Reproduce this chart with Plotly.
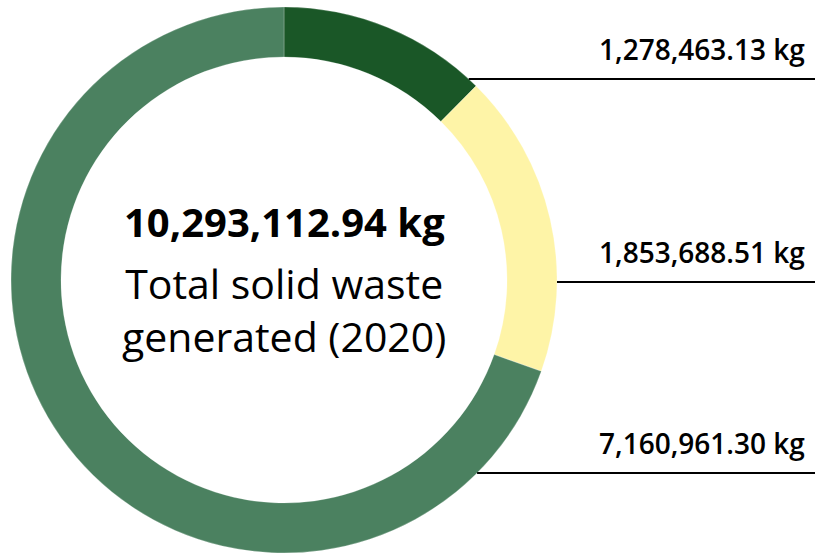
import math
import plotly.graph_objects as go

# Solid waste generated in 2020, by stream (kg)
streams = ["Stream A", "Stream B", "Stream C"]
waste_kg = [1278463.13, 1853688.51, 7160961.30]
slice_colors = ["#1A5727", "#FEF4A7", "#4B8160"]
total_kg = 10293112.94
center_lines = ["Total solid waste", "generated (2020)"]

W, H = 828, 554
cx, cy, R = 284, 280, 273      # donut centre and outer radius, px
hole = 0.817

FONT = "Open Sans"


def px_x(x):
    return x / W


def px_y(y):
    return 1 - y / H


fig = go.Figure(
    go.Pie(
        labels=streams,
        values=waste_kg,
        hole=hole,
        sort=False,
        direction="clockwise",
        rotation=0,
        marker=dict(colors=slice_colors, line=dict(color="rgba(255,255,255,0.4)", width=0.6)),
        textinfo="none",
        hoverinfo="label+value",
        showlegend=False,
        domain=dict(x=[px_x(cx - R), px_x(cx + R)], y=[px_y(cy + R), px_y(cy - R)]),
    )
)

# Leader lines start on the outer rim at the given heights and run to the right edge
label_rows = [79, 282, 473]
line_end = 815
shapes = []
annotations = []
for y, v in zip(label_rows, waste_kg):
    dy = cy - y
    x0 = cx + math.sqrt(max(R * R - dy * dy, 0))
    shapes.append(
        dict(type="line", xref="paper", yref="paper",
             x0=px_x(x0), x1=px_x(line_end), y0=px_y(y), y1=px_y(y),
             line=dict(color="#000000", width=2))
    )
    annotations.append(
        dict(text=f"{v:,.2f} kg", xref="paper", yref="paper",
             x=px_x(807), y=px_y(y - 30), xanchor="right", yanchor="middle",
             showarrow=False,
             font=dict(family=FONT, size=28, color="#000000", weight=600))
    )

annotations.append(
    dict(text=f"{total_kg:,.2f} kg", xref="paper", yref="paper",
         x=px_x(cx), y=px_y(221), xanchor="center", yanchor="middle",
         showarrow=False, font=dict(family=FONT, size=40, color="#000000", weight=700))
)
annotations.append(
    dict(text="<br>".join(center_lines), xref="paper", yref="paper",
         x=px_x(cx), y=px_y(309), xanchor="center", yanchor="middle",
         showarrow=False, font=dict(family=FONT, size=41, color="#000000"))
)

fig.update_layout(
    width=W, height=H,
    margin=dict(l=0, r=0, t=0, b=0),
    paper_bgcolor="#FFFFFF",
    plot_bgcolor="#FFFFFF",
    shapes=shapes,
    annotations=annotations,
)

fig.write_html("out.html")
